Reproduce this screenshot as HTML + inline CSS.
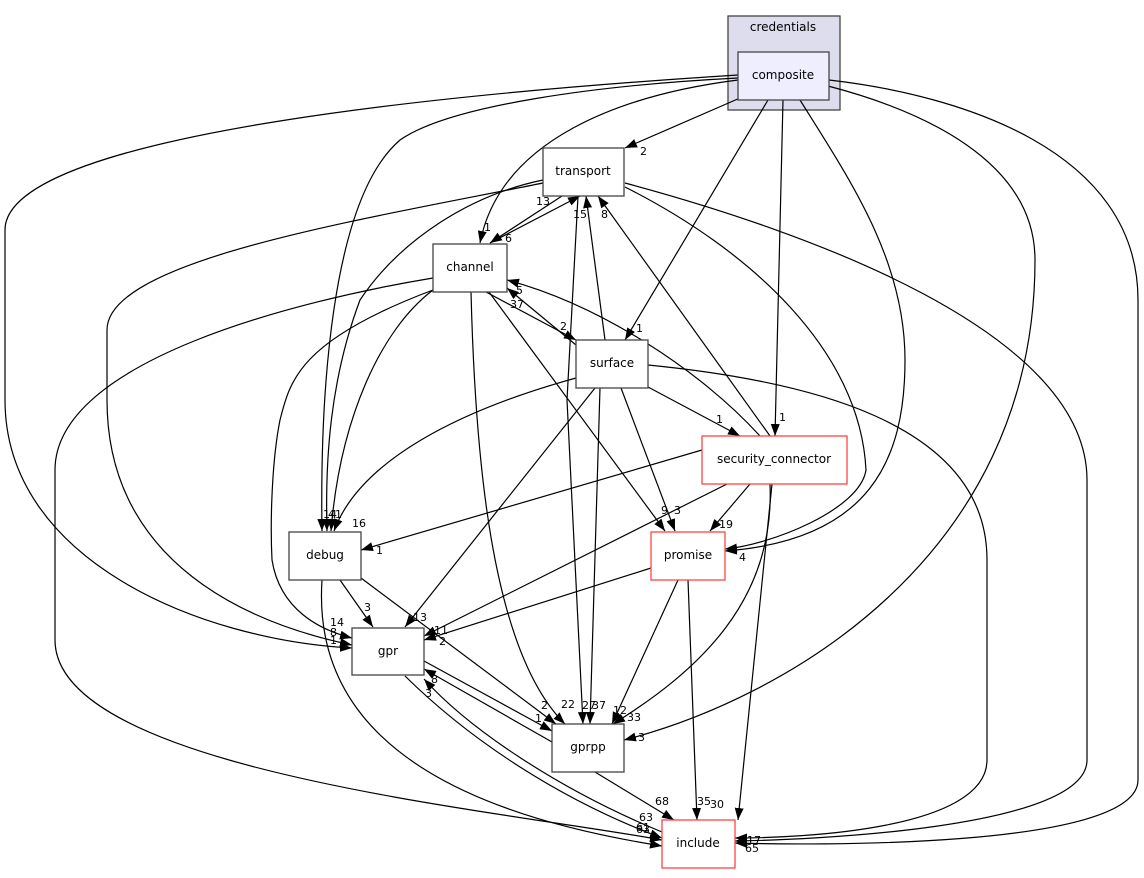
<!DOCTYPE html>
<html><head><meta charset="utf-8"><style>
html,body{margin:0;padding:0;background:#fff;}
svg text{font-family:"DejaVu Sans","Liberation Sans",sans-serif;}
</style></head><body>
<svg width="1144" height="873" viewBox="0 0 1144 873" xmlns="http://www.w3.org/2000/svg">
<defs><marker id="a" viewBox="0 0 12 10" refX="12" refY="5" markerWidth="12" markerHeight="10" markerUnits="userSpaceOnUse" orient="auto"><path d="M0,0.5L12,5L0,9.5Z" fill="#000"/></marker></defs>
<rect x="728" y="16" width="112" height="94" fill="#ddddee" stroke="#444" stroke-width="1.3"/>
<text x="783" y="31" font-size="12" text-anchor="middle">credentials</text>
<g fill="none" stroke="#000" stroke-width="1.2" marker-end="url(#a)">
<path d="M740,98 L625,148"/>
<path d="M738,80 C620,95 500,140 480,243"/>
<path d="M738,78 C600,85 450,105 400,140 C330,200 320,400 322,531"/>
<path d="M738,75 C500,90 5,130 5,230 L5,400 C5,560 200,640 352,648"/>
<path d="M768,100 L625,340"/>
<path d="M783,100 L775,436"/>
<path d="M800,100 C850,180 905,260 905,360 C905,460 870,540 725,551"/>
<path d="M828,86 C920,110 1035,160 1035,260 C1035,560 780,700 624,740"/>
<path d="M829,80 C960,95 1138,150 1138,300 L1138,780 C1138,850 800,845 735,843"/>
<path d="M562,196 L490,243"/>
<path d="M490,243 L580,196"/>
<path d="M543,180 C470,195 400,240 360,300 C330,380 325,460 327,531"/>
<path d="M543,183 C360,220 107,260 107,330 L107,400 C107,580 280,630 352,645"/>
<path d="M578,196 L567,400 L583,724"/>
<path d="M625,187 C750,250 860,350 866,470 C860,510 770,545 725,549"/>
<path d="M625,183 C800,230 1087,330 1087,480 L1087,760 C1087,830 800,840 735,841"/>
<path d="M433,290 C380,330 340,420 331,531"/>
<path d="M433,290 C300,340 290,380 280,420 C272,460 270,520 272,560 C280,610 320,630 352,638"/>
<path d="M433,278 C300,300 55,360 55,470 L55,640 C55,770 500,810 662,840"/>
<path d="M471,292 C475,450 490,650 565,724"/>
<path d="M486,292 L576,340"/>
<path d="M576,345 L507,288"/>
<path d="M489,292 L665,531"/>
<path d="M605,340 L586,196"/>
<path d="M576,378 C460,410 360,460 334,531"/>
<path d="M595,388 L405,627"/>
<path d="M600,388 L590,724"/>
<path d="M621,388 L675,531"/>
<path d="M648,387 L740,436"/>
<path d="M648,365 C800,380 987,420 987,560 L987,760 C987,830 800,838 735,838"/>
<path d="M770,436 L598,196"/>
<path d="M760,436 C700,370 600,305 507,280"/>
<path d="M702,450 L361,550"/>
<path d="M727,484 L424,636"/>
<path d="M750,484 L710,531"/>
<path d="M770,484 C775,600 700,670 613,724"/>
<path d="M772,484 L738,820"/>
<path d="M340,580 L373,627"/>
<path d="M361,578 L556,724"/>
<path d="M322,580 C310,760 500,820 662,846"/>
<path d="M651,568 L424,640"/>
<path d="M678,580 L612,724"/>
<path d="M688,580 L697,820"/>
<path d="M424,661 L552,731"/>
<path d="M552,742 L424,669"/>
<path d="M405,676 C470,740 560,800 662,838"/>
<path d="M662,832 C560,790 470,730 424,679"/>
<path d="M595,772 L674,820"/>
</g>
<g stroke="#444" stroke-width="1.3">
<rect x="738" y="52" width="91" height="48" fill="#eeeeff"/>
<rect x="543" y="148" width="81" height="48" fill="#fff"/>
<rect x="433" y="244" width="74" height="48" fill="#fff"/>
<rect x="576" y="340" width="72" height="48" fill="#fff"/>
<rect x="289" y="532" width="72" height="48" fill="#fff"/>
<rect x="352" y="628" width="72" height="47" fill="#fff"/>
<rect x="552" y="724" width="72" height="48" fill="#fff"/>
</g>
<g stroke="#ff4444" stroke-width="1.3" fill="#fff">
<rect x="702" y="436" width="145" height="48"/>
<rect x="651" y="532" width="74" height="48"/>
<rect x="662" y="820" width="73" height="48"/>
</g>
<g font-size="12" text-anchor="middle">
<text x="783" y="79">composite</text>
<text x="583" y="175">transport</text>
<text x="470" y="271">channel</text>
<text x="612" y="367">surface</text>
<text x="774" y="463">security_connector</text>
<text x="325" y="559">debug</text>
<text x="688" y="559">promise</text>
<text x="388" y="655">gpr</text>
<text x="588" y="751">gprpp</text>
<text x="698" y="847">include</text>
</g>
<g font-size="11">
<text x="640" y="155">2</text><text x="484" y="231">1</text><text x="505" y="242">6</text>
<text x="536" y="205">13</text><text x="573" y="218">15</text><text x="601" y="218">8</text>
<text x="516" y="294">5</text><text x="510" y="308">37</text><text x="560" y="330">2</text>
<text x="636" y="332">1</text><text x="716" y="423">1</text><text x="779" y="421">1</text>
<text x="323" y="518">14</text><text x="328" y="518">41</text><text x="352" y="527">16</text>
<text x="376" y="554">1</text><text x="661" y="514">9</text><text x="674" y="514">3</text>
<text x="719" y="528">19</text><text x="739" y="561">4</text>
<text x="364" y="611">3</text><text x="330" y="626">14</text><text x="330" y="636">8</text><text x="330" y="644">1</text>
<text x="413" y="621">13</text><text x="434" y="634">11</text><text x="439" y="645">2</text>
<text x="431" y="683">8</text><text x="425" y="697">3</text>
<text x="541" y="709">2</text><text x="561" y="708">22</text><text x="582" y="709">27</text><text x="592" y="709">37</text>
<text x="613" y="714">12</text><text x="627" y="721">33</text><text x="535" y="722">1</text><text x="638" y="741">3</text>
<text x="655" y="805">68</text><text x="697" y="805">35</text><text x="710" y="808">30</text>
<text x="639" y="821">63</text><text x="636" y="831">61</text><text x="636" y="833">63</text>
<text x="747" y="844">17</text><text x="745" y="852">65</text>
</g>
</svg>
</body></html>
